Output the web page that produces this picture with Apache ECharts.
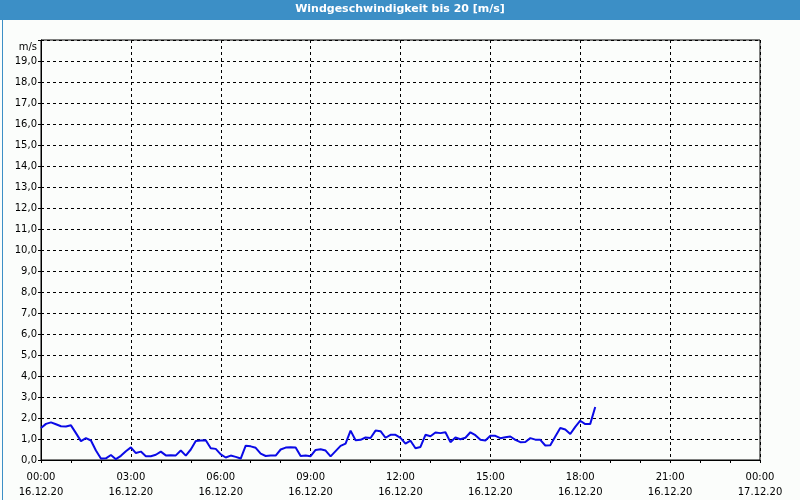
<!DOCTYPE html>
<html>
<head>
<meta charset="utf-8">
<script src="https://cdn.jsdelivr.net/npm/echarts@6/dist/echarts.min.js"></script>
<style>
html,body{margin:0;padding:0;background:#fbfdfb;}
#c{width:800px;height:500px;}
</style>
</head>
<body>
<div id="c"></div>
<script>
var chartTitle = 'Windgeschwindigkeit bis 20 [m/s]';
var unitLabel = 'm/s';
var stepMinutes = 10;
var xTickTimes = ['00:00','03:00','06:00','09:00','12:00','15:00','18:00','21:00','00:00'];
var xTickDates = ['16.12.20','16.12.20','16.12.20','16.12.20','16.12.20','16.12.20','16.12.20','16.12.20','17.12.20'];
var windValues = [
 1.52,1.72,1.79,1.70,1.61,1.60,1.65,1.28,0.90,1.04,
 0.93,0.45,0.07,0.08,0.24,0.04,0.20,0.42,0.60,0.33,
 0.40,0.18,0.18,0.25,0.40,0.22,0.23,0.22,0.45,0.21,
 0.50,0.91,0.93,0.94,0.56,0.53,0.27,0.12,0.21,0.15,
 0.07,0.68,0.65,0.58,0.30,0.19,0.21,0.21,0.50,0.59,
 0.61,0.60,0.19,0.21,0.18,0.48,0.51,0.45,0.17,0.42,
 0.67,0.78,1.40,0.94,0.96,1.07,1.05,1.40,1.37,1.06,
 1.20,1.20,1.05,0.78,0.92,0.56,0.62,1.20,1.13,1.31,
 1.28,1.32,0.85,1.07,0.99,1.06,1.32,1.18,0.96,0.93,
 1.15,1.15,1.04,1.08,1.12,0.96,0.85,0.86,1.04,0.97,
 0.96,0.69,0.70,1.12,1.52,1.45,1.24,1.58,1.87,1.71,
 1.72,2.52
];

var seriesData = windValues.map(function (v, i) { return [i * stepMinutes / 60, v]; });

var font = 'DejaVu Sans';
var chart = echarts.init(document.getElementById('c'), null, {renderer: 'canvas'});
chart.setOption({
  backgroundColor: '#fbfdfb',
  animation: false,
  textStyle: {fontFamily: font},
  grid: {left: 41, right: 40, top: 40, bottom: 40, show: true, borderColor: '#000', borderWidth: 1, backgroundColor: 'transparent'},
  graphic: [
    {type: 'rect', left: 0, top: 0, shape: {width: 800, height: 20}, style: {fill: '#3c8fc6'}, silent: true},
    {type: 'rect', left: 0, top: 0, shape: {x: 0.5, y: 0.5, width: 799, height: 499}, style: {fill: 'none', stroke: '#3c8fc6', lineWidth: 1}, silent: true},
    {type: 'text', left: 'center', top: 4, style: {text: chartTitle, fill: '#ffffff', font: 'bold 11px "DejaVu Sans"'}, silent: true}
  ],
  xAxis: {
    type: 'value', min: 0, max: 24, interval: 3,
    axisLine: {show: true, lineStyle: {color: '#000'}},
    axisTick: {show: true, length: 3, lineStyle: {color: '#000'}},
    minorTick: {show: true, splitNumber: 3, length: 3, lineStyle: {color: '#000'}},
    splitLine: {show: true, lineStyle: {color: '#000', type: [3, 3], width: 1}},
    axisLabel: {
      margin: 10, color: '#000', fontSize: 10, lineHeight: 15, fontFamily: font,
      formatter: function (v) { var k = Math.round(v / 3); return xTickTimes[k] + '\n' + xTickDates[k]; }
    }
  },
  yAxis: {
    type: 'value', min: 0, max: 20, interval: 1,
    name: unitLabel, nameLocation: 'end', nameGap: -7,
    nameTextStyle: {color: '#000', fontSize: 10, fontFamily: font, align: 'right', padding: [0, 4, 0, 0], verticalAlign: 'middle'},
    axisLine: {show: true, lineStyle: {color: '#000'}},
    axisTick: {show: true, length: 3, lineStyle: {color: '#000'}},
    splitLine: {show: true, lineStyle: {color: '#000', type: [3, 3], width: 1}},
    axisLabel: {
      margin: 4, color: '#000', fontSize: 10, fontFamily: font, padding: [3, 0, 0, 0],
      formatter: function (v) { return v >= 20 ? '' : v.toFixed(1).replace('.', ','); }
    }
  },
  series: [{
    type: 'line', data: seriesData, showSymbol: false, symbol: 'none',
    lineStyle: {color: '#0a0ae6', width: 2}, smooth: false
  }]
});
</script>
</body>
</html>
